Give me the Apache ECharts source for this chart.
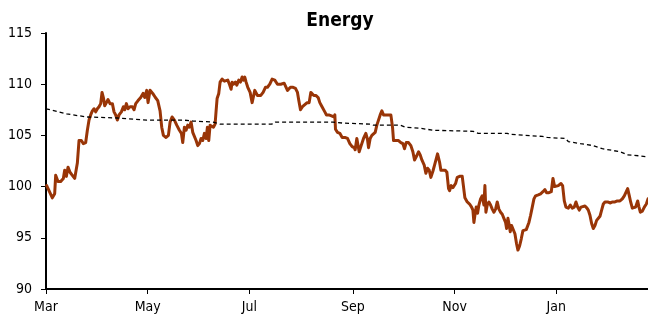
<!DOCTYPE html>
<html>
<head>
<meta charset="utf-8">
<script src="https://cdn.jsdelivr.net/npm/echarts@6/dist/echarts.min.js"></script>
<style>
  html, body { margin: 0; padding: 0; background: #fff; }
  #chart { width: 648px; height: 322px; }
</style>
</head>
<body>
<div id="chart"></div>
<script>
// Energy index: daily level and its long moving average, Mar to late Feb.
// x values are days counted from 1 March.
const priceDays = [
  0.4, 1.8, 3.8, 5.2, 5.8, 7.2, 8.8, 10.4, 11.2, 12.2, 13.2, 14.4, 15.8, 17.2, 18.8, 19.8,
  21.2, 22.4, 23.8, 24.8, 25.8, 26.8, 27.8, 28.8, 29.8, 30.8, 31.8, 32.8, 33.6, 34.4, 35.2,
  36.2, 37.2, 38.4, 39.8, 40.8, 41.8, 42.8, 43.8, 45.2, 46.4, 47.2, 48.2, 49.2, 50.4, 51.8,
  52.8, 53.8, 55.2, 56.8, 58.2, 59.2, 60.4, 61.2, 62.4, 64.0, 65.6, 67.0, 68.4, 69.4, 70.4,
  72.0, 73.4, 74.4, 75.6, 77.0, 78.4, 80.0, 81.2, 82.0, 83.0, 84.0, 85.0, 86.0, 87.0, 88.0,
  89.0, 90.0, 91.0, 92.0, 93.0, 94.0, 95.0, 96.0, 96.8, 97.6, 98.4, 99.4, 100.4, 101.4,
  102.0, 102.6, 103.6, 104.4, 105.6, 107.0, 108.0, 109.0, 110.0, 111.0, 111.6, 112.4, 113.6,
  114.4, 115.6, 116.6, 117.6, 118.4, 119.2, 120.0, 121.0, 122.4, 123.6, 125.2, 126.8, 128.8,
  130.2, 131.6, 132.8, 134.2, 135.6, 137.2, 138.8, 140.8, 142.8, 143.8, 144.8, 145.6, 146.6,
  148.2, 149.6, 150.8, 151.6, 152.6, 153.8, 155.2, 156.6, 157.8, 158.8, 159.6, 160.6, 161.8,
  163.2, 164.2, 165.2, 166.2, 167.2, 168.2, 169.6, 171.2, 172.6, 173.2, 173.6, 174.8, 176.2,
  177.6, 179.2, 180.8, 182.2, 183.6, 184.8, 185.4, 186.4, 187.8, 189.0, 190.4, 191.8, 192.8,
  193.4, 194.4, 195.4, 196.4, 197.4, 198.4, 199.4, 200.4, 201.4, 202.4, 204.0, 205.4, 206.8,
  207.8, 208.4, 209.8, 211.4, 212.8, 214.0, 215.0, 216.0, 217.4, 218.8, 220.0, 221.0, 222.0,
  223.4, 224.4, 225.4, 226.8, 227.8, 228.8, 229.8, 230.8, 232.0, 233.0, 234.0, 234.8, 236.0,
  236.8, 238.0, 239.4, 240.4, 241.4, 242.0, 243.0, 244.0, 245.6, 246.6, 248.0, 249.6, 250.6,
  251.2, 252.6, 254.0, 255.2, 256.0, 256.6, 257.2, 258.0, 258.8, 259.6, 260.6, 261.6, 262.6,
  263.2, 263.8, 264.6, 265.6, 266.6, 267.6, 268.6, 269.6, 270.6, 271.6, 272.6, 273.6, 274.6,
  275.6, 276.2, 277.0, 277.6, 278.4, 279.2, 280.2, 281.2, 282.2, 283.0, 284.0, 285.0, 286.0,
  287.0, 288.0, 289.6, 290.6, 291.6, 292.6, 293.6, 295.2, 296.6, 298.0, 299.2, 300.2, 301.6,
  303.0, 304.0, 305.0, 306.0, 307.2, 308.8, 309.8, 310.8, 311.8, 313.2, 314.4, 315.6, 316.8,
  317.8, 318.8, 319.8, 320.8, 321.8, 323.2, 324.4, 325.2, 326.2, 327.2, 328.2, 329.2, 330.2,
  331.2, 332.2, 333.2, 334.2, 335.2, 336.8, 338.2, 339.8, 341.2, 342.6, 344.2, 345.6, 346.8,
  347.6, 348.8, 349.8, 350.6, 351.6, 352.6, 353.6, 354.8, 355.6, 356.4, 357.6, 358.8, 360.0,
  361.0
];
const priceValues = [
  100.1, 99.6, 98.9, 99.3, 101.1, 100.5, 100.5, 100.8, 101.6, 101.0, 101.9, 101.4, 101.1, 100.8, 102.3, 104.5,
  104.5, 104.2, 104.3, 105.5, 106.5, 107.0, 107.4, 107.6, 107.3, 107.6, 107.8, 108.1, 109.2, 108.7, 107.9,
  108.0, 108.5, 108.1, 108.1, 107.3, 107.0, 106.5, 107.0, 107.3, 107.8, 107.5, 108.1, 107.6, 107.8, 107.8,
  107.5, 108.1, 108.4, 108.7, 109.1, 108.7, 109.4, 108.2, 109.4, 109.1, 108.7, 108.4, 107.4, 105.8, 105.0,
  104.8, 105.0, 106.3, 106.8, 106.5, 106.0, 105.5, 105.2, 104.3, 105.8, 105.5, 106.0, 105.8, 106.3, 105.3,
  105.2, 104.5, 104.0, 104.2, 104.7, 104.5, 105.2, 104.7, 105.8, 104.5, 106.0, 106.1, 105.8, 106.1,
  107.4, 108.6, 109.1, 110.2, 110.5, 110.3, 110.2, 110.4, 110.0, 109.5, 110.2, 110.0, 110.2,
  109.9, 110.4, 110.2, 110.7, 110.4, 110.7, 110.2, 109.7, 109.2, 108.2, 109.4, 108.9, 108.9,
  109.2, 109.7, 109.7, 110.0, 110.5, 110.4, 110.0, 110.0, 110.1, 110.2, 109.4, 109.3, 109.7,
  109.7, 109.6, 109.2, 108.4, 107.5, 107.8, 108.0, 108.2, 108.2, 109.2, 109.2, 108.9, 108.9,
  108.7, 108.2, 107.9, 107.8, 107.3, 107.0, 107.0, 106.9, 106.8, 107.0, 105.6, 105.3, 105.2,
  104.8, 104.8, 104.7, 104.2, 103.9, 103.8, 103.6, 104.7, 103.4, 104.0, 104.7, 105.2, 104.6,
  103.8, 104.7, 105.0, 104.9, 105.3, 106.0, 106.1, 107.0, 107.4, 107.0, 107.0, 107.0, 107.0,
  105.8, 104.5, 104.5, 104.5, 104.3, 104.2, 103.7, 104.3, 104.3, 104.0, 103.4, 102.6, 102.9,
  103.4, 103.1, 102.6, 102.1, 101.3, 101.8, 101.6, 100.9, 101.5, 102.1, 102.7, 103.2, 102.4,
  101.6, 101.6, 101.6, 101.4, 99.8, 99.6, 100.1, 99.9, 100.3, 100.9, 101.0, 101.0, 101.0,
  98.9, 98.5, 98.3, 98.0, 97.7, 96.5, 97.2, 98.0, 97.4, 98.2, 98.8, 99.1, 98.2,
  100.1, 97.5, 98.2, 98.5, 98.2, 97.8, 97.5, 97.8, 98.5, 97.8, 97.5, 97.3, 96.9,
  96.5, 95.9, 96.9, 96.4, 95.6, 96.2, 96.1, 95.4, 94.4, 93.8, 94.2, 94.9, 95.7,
  95.8, 95.8, 96.5, 97.2, 98.0, 98.8, 99.1, 99.2, 99.3, 99.5, 99.7, 99.4, 99.4,
  99.5, 100.8, 100.0, 100.1, 100.1, 100.3, 100.1, 98.6, 98.0, 97.9, 98.2, 97.9, 98.0,
  98.5, 98.0, 97.7, 98.0, 98.1, 98.1, 97.9, 97.7, 97.2, 96.4, 95.9, 96.2, 96.7,
  96.6, 97.1, 97.7, 98.3, 98.5, 98.5, 98.4, 98.5, 98.5, 98.6, 98.6, 98.8, 99.1,
  99.2, 99.8, 99.1, 98.5, 97.9, 97.9, 98.0, 98.6, 98.0, 97.5, 97.6, 98.0, 98.3,
  98.8
];

// Long moving average (dashed)
const avgDays = [
  0, 12.4, 24.4, 42.4, 60.4, 82.2, 88.2, 100.2, 104.4, 135.4, 137.4, 172.2, 178.2, 194.4,
  196.2, 212.4, 215.4, 224.4, 232.2, 256.2, 259.2, 276.6, 278.4, 297.6, 300.6, 311.4, 313.2,
  320.4, 328.2, 333.6, 344.4, 348.6, 356.4, 361
];
const avgValues = [
  107.6, 107.1, 106.8, 106.7, 106.5, 106.5, 106.4, 106.3, 106.1, 106.1, 106.3, 106.3, 106.2, 106.1,
  106.0, 106.0, 105.8, 105.7, 105.5, 105.4, 105.2, 105.2, 105.1, 104.9, 104.8, 104.7, 104.4,
  104.2, 104.0, 103.7, 103.4, 103.1, 103.0, 102.9
];

// Axis ticks: first day of every second month
const monthTickDays = [0, 61, 122, 184, 245, 306];
const monthTickLabels = ['Mar', 'May', 'Jul', 'Sep', 'Nov', 'Jan'];

const yTicks = { min: 90, max: 115, step: 5 };

const FONT = '"DejaVu Sans Condensed", "Liberation Sans Narrow", "DejaVu Sans", sans-serif';

const zip = (xs, ys) => xs.map((x, i) => [x, ys[i]]);

const chart = echarts.init(document.getElementById('chart'), null, { renderer: 'canvas' });
chart.setOption({
  animation: false,
  backgroundColor: '#fff',
  title: {
    text: 'Energy',
    left: 335,
    top: 7,
    textAlign: 'center',
    textStyle: { fontFamily: FONT, fontWeight: 'bold', fontSize: 19, color: '#000' }
  },
  grid: { left: 46, right: 0, top: 33, bottom: 33, containLabel: false },
  xAxis: {
    type: 'value',
    min: 0,
    max: 361,
    splitLine: { show: false },
    axisLine: { show: true, lineStyle: { color: '#000', width: 2 } },
    axisTick: {
      show: true, length: 5, inside: false,
      customValues: monthTickDays,
      lineStyle: { color: '#000', width: 1 }
    },
    axisLabel: {
      customValues: monthTickDays,
      formatter: (v) => {
        const i = monthTickDays.indexOf(Math.round(v));
        return i >= 0 ? monthTickLabels[i] : '';
      },
      margin: 11,
      fontFamily: FONT,
      fontSize: 14,
      color: '#000'
    }
  },
  yAxis: {
    type: 'value',
    min: yTicks.min,
    max: yTicks.max,
    interval: yTicks.step,
    splitLine: { show: false },
    axisLine: { show: true, onZero: false, lineStyle: { color: '#000', width: 2 } },
    axisTick: { show: true, length: 5, inside: false, lineStyle: { color: '#000', width: 1 } },
    axisLabel: { margin: 14, fontFamily: FONT, fontSize: 14, color: '#000' }
  },
  series: [
    {
      name: 'Energy',
      type: 'line',
      data: zip(priceDays, priceValues),
      showSymbol: false,
      clip: true,
      lineStyle: { color: '#993507', width: 3, join: 'round', cap: 'round' },
      z: 2
    },
    {
      name: 'Moving average',
      type: 'line',
      data: zip(avgDays, avgValues),
      showSymbol: false,
      clip: true,
      lineStyle: { color: '#000', width: 1.3, type: [4, 3] },
      z: 3
    }
  ]
});
</script>
</body>
</html>
